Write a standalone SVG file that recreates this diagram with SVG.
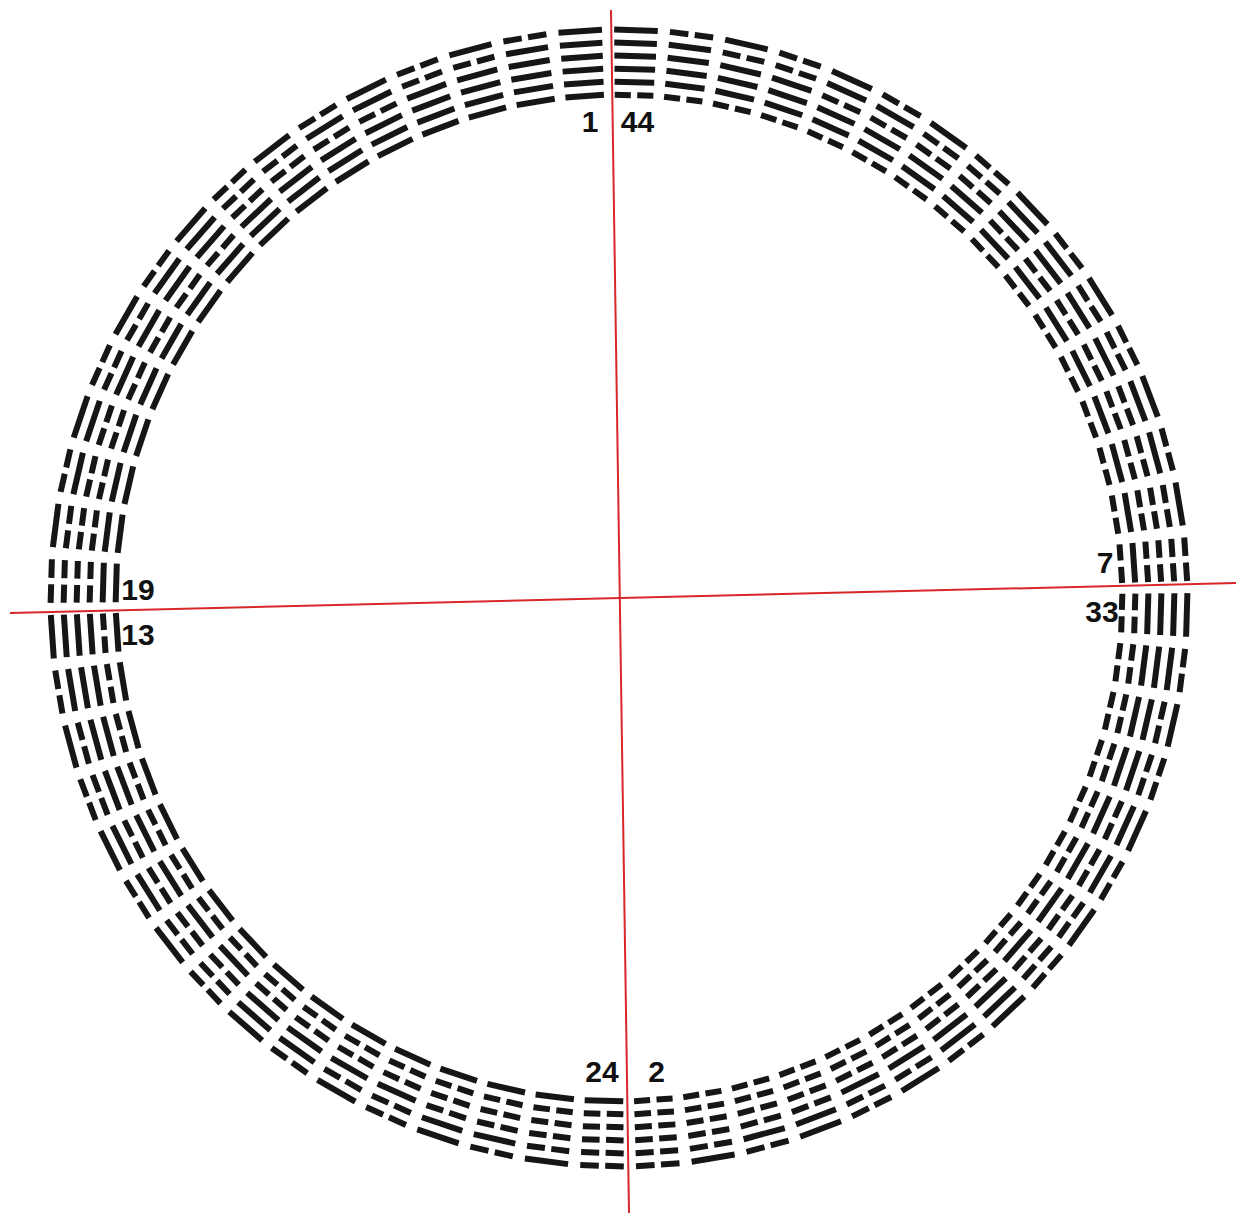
<svg xmlns="http://www.w3.org/2000/svg" xmlns:xlink="http://www.w3.org/1999/xlink" width="1236" height="1213" viewBox="0 0 1236 1213">
<style>
.ln{fill:none;stroke:#161616;stroke-width:6}
.lbl{font-family:"Liberation Sans",Arial,sans-serif;font-weight:700;font-size:30px;fill:#111;text-anchor:middle}
.axis{stroke:#d8262a;stroke-width:2;fill:none}
</style>
<defs>
<path id="i000" class="ln" d="M-19.31-503H-3.2M3.2-503H19.31M-19.81-516H-3.2M3.2-516H19.81M-20.31-529H-3.2M3.2-529H20.31"/>
<path id="i001" class="ln" d="M-19.31-503H-3.2M3.2-503H19.31M-19.81-516H-3.2M3.2-516H19.81M-20.31-529H20.31"/>
<path id="i010" class="ln" d="M-19.31-503H-3.2M3.2-503H19.31M-19.81-516H19.81M-20.31-529H-3.2M3.2-529H20.31"/>
<path id="i011" class="ln" d="M-19.31-503H-3.2M3.2-503H19.31M-19.81-516H19.81M-20.31-529H20.31"/>
<path id="i100" class="ln" d="M-19.31-503H19.31M-19.81-516H-3.2M3.2-516H19.81M-20.31-529H-3.2M3.2-529H20.31"/>
<path id="i101" class="ln" d="M-19.31-503H19.31M-19.81-516H-3.2M3.2-516H19.81M-20.31-529H20.31"/>
<path id="i110" class="ln" d="M-19.31-503H19.31M-19.81-516H19.81M-20.31-529H-3.2M3.2-529H20.31"/>
<path id="i111" class="ln" d="M-19.31-503H19.31M-19.81-516H19.81M-20.31-529H20.31"/>
<path id="o000" class="ln" d="M-20.81-542H-3.2M3.2-542H20.81M-21.31-555H-3.2M3.2-555H21.31M-21.8-568H-3.2M3.2-568H21.8"/>
<path id="o001" class="ln" d="M-20.81-542H-3.2M3.2-542H20.81M-21.31-555H-3.2M3.2-555H21.31M-21.8-568H21.8"/>
<path id="o010" class="ln" d="M-20.81-542H-3.2M3.2-542H20.81M-21.31-555H21.31M-21.8-568H-3.2M3.2-568H21.8"/>
<path id="o011" class="ln" d="M-20.81-542H-3.2M3.2-542H20.81M-21.31-555H21.31M-21.8-568H21.8"/>
<path id="o100" class="ln" d="M-20.81-542H20.81M-21.31-555H-3.2M3.2-555H21.31M-21.8-568H-3.2M3.2-568H21.8"/>
<path id="o101" class="ln" d="M-20.81-542H20.81M-21.31-555H-3.2M3.2-555H21.31M-21.8-568H21.8"/>
<path id="o110" class="ln" d="M-20.81-542H20.81M-21.31-555H21.31M-21.8-568H-3.2M3.2-568H21.8"/>
<path id="o111" class="ln" d="M-20.81-542H20.81M-21.31-555H21.31M-21.8-568H21.8"/>
</defs>
<rect width="1236" height="1213" fill="#ffffff"/>
<g id="hexagrams-left">
<g id="hex1" transform="translate(619 598) rotate(-3.9125)"><use href="#i111"/><use href="#o111"/></g>
<g id="hex43" transform="translate(619 598) rotate(-9.5375)"><use href="#i111"/><use href="#o110"/></g>
<g id="hex14" transform="translate(619 598) rotate(-15.1625)"><use href="#i111"/><use href="#o101"/></g>
<g id="hex34" transform="translate(619 598) rotate(-20.7875)"><use href="#i111"/><use href="#o100"/></g>
<g id="hex9" transform="translate(619 598) rotate(-26.4125)"><use href="#i111"/><use href="#o011"/></g>
<g id="hex5" transform="translate(619 598) rotate(-32.0375)"><use href="#i111"/><use href="#o010"/></g>
<g id="hex26" transform="translate(619 598) rotate(-37.6625)"><use href="#i111"/><use href="#o001"/></g>
<g id="hex11" transform="translate(619 598) rotate(-43.2875)"><use href="#i111"/><use href="#o000"/></g>
<g id="hex10" transform="translate(619 598) rotate(-48.9125)"><use href="#i110"/><use href="#o111"/></g>
<g id="hex58" transform="translate(619 598) rotate(-54.5375)"><use href="#i110"/><use href="#o110"/></g>
<g id="hex38" transform="translate(619 598) rotate(-60.1625)"><use href="#i110"/><use href="#o101"/></g>
<g id="hex54" transform="translate(619 598) rotate(-65.7875)"><use href="#i110"/><use href="#o100"/></g>
<g id="hex61" transform="translate(619 598) rotate(-71.4125)"><use href="#i110"/><use href="#o011"/></g>
<g id="hex60" transform="translate(619 598) rotate(-77.0375)"><use href="#i110"/><use href="#o010"/></g>
<g id="hex41" transform="translate(619 598) rotate(-82.6625)"><use href="#i110"/><use href="#o001"/></g>
<g id="hex19" transform="translate(619 598) rotate(-88.2875)"><use href="#i110"/><use href="#o000"/></g>
<g id="hex13" transform="translate(619 598) rotate(-93.9125)"><use href="#i101"/><use href="#o111"/></g>
<g id="hex49" transform="translate(619 598) rotate(-99.5375)"><use href="#i101"/><use href="#o110"/></g>
<g id="hex30" transform="translate(619 598) rotate(-105.1625)"><use href="#i101"/><use href="#o101"/></g>
<g id="hex55" transform="translate(619 598) rotate(-110.7875)"><use href="#i101"/><use href="#o100"/></g>
<g id="hex37" transform="translate(619 598) rotate(-116.4125)"><use href="#i101"/><use href="#o011"/></g>
<g id="hex63" transform="translate(619 598) rotate(-122.0375)"><use href="#i101"/><use href="#o010"/></g>
<g id="hex22" transform="translate(619 598) rotate(-127.6625)"><use href="#i101"/><use href="#o001"/></g>
<g id="hex36" transform="translate(619 598) rotate(-133.2875)"><use href="#i101"/><use href="#o000"/></g>
<g id="hex25" transform="translate(619 598) rotate(-138.9125)"><use href="#i100"/><use href="#o111"/></g>
<g id="hex17" transform="translate(619 598) rotate(-144.5375)"><use href="#i100"/><use href="#o110"/></g>
<g id="hex21" transform="translate(619 598) rotate(-150.1625)"><use href="#i100"/><use href="#o101"/></g>
<g id="hex51" transform="translate(619 598) rotate(-155.7875)"><use href="#i100"/><use href="#o100"/></g>
<g id="hex42" transform="translate(619 598) rotate(-161.4125)"><use href="#i100"/><use href="#o011"/></g>
<g id="hex3" transform="translate(619 598) rotate(-167.0375)"><use href="#i100"/><use href="#o010"/></g>
<g id="hex27" transform="translate(619 598) rotate(-172.6625)"><use href="#i100"/><use href="#o001"/></g>
<g id="hex24" transform="translate(619 598) rotate(-178.2875)"><use href="#i100"/><use href="#o000"/></g>
</g>
<g id="hexagrams-right">
<g id="hex44" transform="translate(619 598) rotate(1.7125)"><use href="#i011"/><use href="#o111"/></g>
<g id="hex28" transform="translate(619 598) rotate(7.3375)"><use href="#i011"/><use href="#o110"/></g>
<g id="hex50" transform="translate(619 598) rotate(12.9625)"><use href="#i011"/><use href="#o101"/></g>
<g id="hex32" transform="translate(619 598) rotate(18.5875)"><use href="#i011"/><use href="#o100"/></g>
<g id="hex57" transform="translate(619 598) rotate(24.2125)"><use href="#i011"/><use href="#o011"/></g>
<g id="hex48" transform="translate(619 598) rotate(29.8375)"><use href="#i011"/><use href="#o010"/></g>
<g id="hex18" transform="translate(619 598) rotate(35.4625)"><use href="#i011"/><use href="#o001"/></g>
<g id="hex46" transform="translate(619 598) rotate(41.0875)"><use href="#i011"/><use href="#o000"/></g>
<g id="hex6" transform="translate(619 598) rotate(46.7125)"><use href="#i010"/><use href="#o111"/></g>
<g id="hex47" transform="translate(619 598) rotate(52.3375)"><use href="#i010"/><use href="#o110"/></g>
<g id="hex64" transform="translate(619 598) rotate(57.9625)"><use href="#i010"/><use href="#o101"/></g>
<g id="hex40" transform="translate(619 598) rotate(63.5875)"><use href="#i010"/><use href="#o100"/></g>
<g id="hex59" transform="translate(619 598) rotate(69.2125)"><use href="#i010"/><use href="#o011"/></g>
<g id="hex29" transform="translate(619 598) rotate(74.8375)"><use href="#i010"/><use href="#o010"/></g>
<g id="hex4" transform="translate(619 598) rotate(80.4625)"><use href="#i010"/><use href="#o001"/></g>
<g id="hex7" transform="translate(619 598) rotate(86.0875)"><use href="#i010"/><use href="#o000"/></g>
<g id="hex33" transform="translate(619 598) rotate(91.7125)"><use href="#i001"/><use href="#o111"/></g>
<g id="hex31" transform="translate(619 598) rotate(97.3375)"><use href="#i001"/><use href="#o110"/></g>
<g id="hex56" transform="translate(619 598) rotate(102.9625)"><use href="#i001"/><use href="#o101"/></g>
<g id="hex62" transform="translate(619 598) rotate(108.5875)"><use href="#i001"/><use href="#o100"/></g>
<g id="hex53" transform="translate(619 598) rotate(114.2125)"><use href="#i001"/><use href="#o011"/></g>
<g id="hex39" transform="translate(619 598) rotate(119.8375)"><use href="#i001"/><use href="#o010"/></g>
<g id="hex52" transform="translate(619 598) rotate(125.4625)"><use href="#i001"/><use href="#o001"/></g>
<g id="hex15" transform="translate(619 598) rotate(131.0875)"><use href="#i001"/><use href="#o000"/></g>
<g id="hex12" transform="translate(619 598) rotate(136.7125)"><use href="#i000"/><use href="#o111"/></g>
<g id="hex45" transform="translate(619 598) rotate(142.3375)"><use href="#i000"/><use href="#o110"/></g>
<g id="hex35" transform="translate(619 598) rotate(147.9625)"><use href="#i000"/><use href="#o101"/></g>
<g id="hex16" transform="translate(619 598) rotate(153.5875)"><use href="#i000"/><use href="#o100"/></g>
<g id="hex20" transform="translate(619 598) rotate(159.2125)"><use href="#i000"/><use href="#o011"/></g>
<g id="hex8" transform="translate(619 598) rotate(164.8375)"><use href="#i000"/><use href="#o010"/></g>
<g id="hex23" transform="translate(619 598) rotate(170.4625)"><use href="#i000"/><use href="#o001"/></g>
<g id="hex2" transform="translate(619 598) rotate(176.0875)"><use href="#i000"/><use href="#o000"/></g>
</g>
<g id="axes">
<line class="axis" x1="611" y1="10" x2="629" y2="1213"/>
<line class="axis" x1="10" y1="613" x2="1236" y2="583"/>
</g>
<g id="labels">
<text class="lbl" x="590" y="132">1</text>
<text class="lbl" x="637.5" y="132">44</text>
<text class="lbl" x="138" y="600">19</text>
<text class="lbl" x="138" y="645">13</text>
<text class="lbl" x="1105" y="573">7</text>
<text class="lbl" x="1102" y="622">33</text>
<text class="lbl" x="602" y="1082">24</text>
<text class="lbl" x="656.5" y="1082">2</text>
</g>
</svg>
